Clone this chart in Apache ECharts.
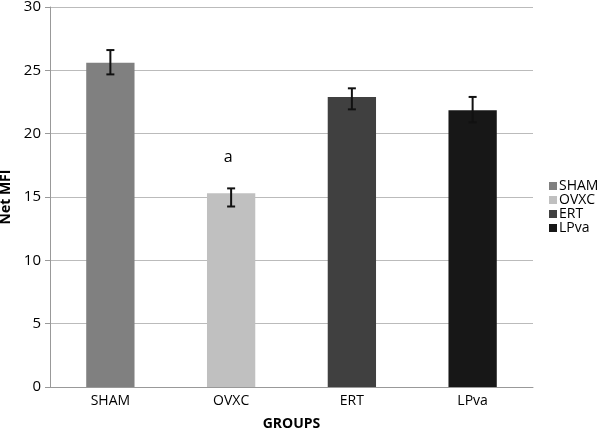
<!DOCTYPE html>
<html><head><meta charset="utf-8">
<script src="https://cdn.jsdelivr.net/npm/echarts@6/dist/echarts.min.js"></script>
<style>html,body{margin:0;padding:0;background:#fff}#c{width:600px;height:432px}</style>
</head><body><div id="c"></div>
<script>
const categories = ['SHAM', 'OVXC', 'ERT', 'LPva'];
const values = [25.6, 15.3, 22.9, 21.85];
const errLow = [24.68, 14.25, 21.92, 20.9];
const errHigh = [26.6, 15.68, 23.58, 22.9];
const annotations = ['', 'a', '', ''];
const colors = ['#808080', '#c0c0c0', '#404040', '#171717'];
const yTicks = [0, 5, 10, 15, 20, 25, 30];

const font = '"Open Sans", "Liberation Sans", sans-serif';
const chart = echarts.init(document.getElementById('c'));

const barSeries = categories.map((name, i) => ({
  name: name,
  type: 'bar',
  stack: 'g',
  barWidth: '40%',
  itemStyle: { color: colors[i] },
  data: categories.map((c, j) => (j === i ? values[i] : '-'))
}));

const errSeries = {
  type: 'custom',
  z: 10,
  silent: true,
  data: categories.map((c, i) => [i, errLow[i], errHigh[i]]),
  renderItem: function (params, api) {
    const x = api.value(0);
    const lo = api.coord([x, api.value(1)]);
    const hi = api.coord([x, api.value(2)]);
    const cap = 4;
    const style = { stroke: '#111', lineWidth: 2 };
    const children = [
      { type: 'line', shape: { x1: lo[0], y1: lo[1], x2: hi[0], y2: hi[1] }, style: style },
      { type: 'line', shape: { x1: lo[0] - cap, y1: lo[1], x2: lo[0] + cap, y2: lo[1] }, style: style },
      { type: 'line', shape: { x1: hi[0] - cap, y1: hi[1], x2: hi[0] + cap, y2: hi[1] }, style: style }
    ];
    const t = annotations[params.dataIndex];
    if (t) {
      children.push({ type: 'text', style: { text: t, x: hi[0] - 3, y: hi[1] - 31, align: 'center', verticalAlign: 'middle', font: '16px ' + font, fill: '#000' } });
    }
    return { type: 'group', children: children };
  }
};

chart.setOption({
  animation: false,
  backgroundColor: '#fff',
  grid: { left: 50, right: 67, top: 7, bottom: 45, containLabel: false, outerBoundsMode: 'none' },
  legend: {
    orient: 'vertical',
    left: 544,
    top: 174,
    itemWidth: 8,
    itemHeight: 8,
    itemGap: 0,
    icon: 'rect',
    textStyle: { fontFamily: font, fontSize: 14, color: '#000', padding: [0, 0, 0, -3] },
    data: categories
  },
  xAxis: {
    type: 'category',
    data: categories,
    name: 'GROUPS',
    nameLocation: 'middle',
    nameGap: 30,
    nameTextStyle: { fontFamily: font, fontSize: 14, fontWeight: 'bold', color: '#000' },
    axisLine: { lineStyle: { color: '#999', width: 1 } },
    axisTick: { show: false },
    axisLabel: { fontFamily: font, fontSize: 14, color: '#000', margin: 7 }
  },
  yAxis: {
    type: 'value',
    min: 0, max: 30, interval: 5,
    name: 'Net MFI',
    nameLocation: 'middle',
    nameGap: 33,
    nameTextStyle: { fontFamily: font, fontSize: 14, fontWeight: 'bold', color: '#000' },
    axisLine: { show: true, lineStyle: { color: '#999', width: 1 } },
    axisTick: { show: true, length: 5, lineStyle: { color: '#999' } },
    axisLabel: { fontFamily: font, fontSize: 15, color: '#000', margin: 9,
      formatter: v => (yTicks.indexOf(v) >= 0 ? String(v) : '') },
    splitLine: { lineStyle: { color: '#bbb', width: 1 } }
  },
  series: barSeries.concat([errSeries])
});
</script></body></html>
